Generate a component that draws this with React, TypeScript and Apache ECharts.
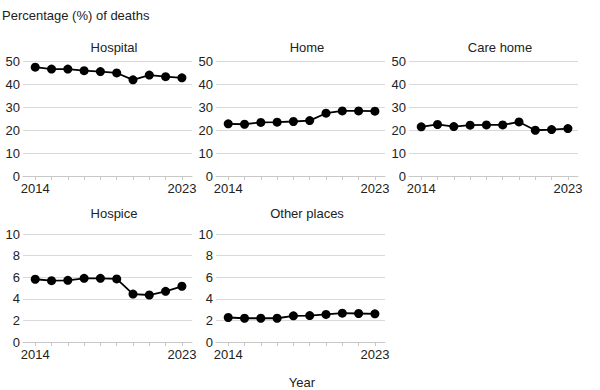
import React, { useEffect, useRef } from "react";
import * as echarts from "echarts";

const years = [2014, 2015, 2016, 2017, 2018, 2019, 2020, 2021, 2022, 2023];
const yearLabels = [2014, 2023];
const panelTitles = ["Hospital", "Home", "Care home", "Hospice", "Other places"];
const hospital = [47.3, 46.5, 46.5, 45.8, 45.4, 44.8, 41.8, 43.9, 43.2, 42.7];
const home = [22.7, 22.5, 23.3, 23.4, 23.7, 24.1, 27.3, 28.3, 28.3, 28.2];
const careHome = [21.4, 22.4, 21.5, 22.1, 22.2, 22.2, 23.5, 19.9, 20.2, 20.6];
const hospice = [5.81, 5.68, 5.71, 5.9, 5.9, 5.84, 4.44, 4.35, 4.69, 5.16];
const otherPlaces = [2.27, 2.2, 2.2, 2.2, 2.42, 2.45, 2.55, 2.67, 2.64, 2.61];
const yMaxTop = 50;
const yIntervalTop = 10;
const yMaxBottom = 10;
const yIntervalBottom = 2;

const seriesData = [hospital, home, careHome, hospice, otherPlaces];

export default function App() {
  const ref = useRef<HTMLDivElement>(null);
  useEffect(() => {
    if (!ref.current) return;
    const chart = echarts.init(ref.current, null, { renderer: "svg" });
    const font = "Liberation Sans, Arial, sans-serif";
    const grids = [
      { left: 23, top: 61, width: 169, height: 115 },
      { left: 216, top: 61, width: 169, height: 115 },
      { left: 409, top: 61, width: 169, height: 115 },
      { left: 23, top: 234, width: 169, height: 108 },
      { left: 216, top: 234, width: 169, height: 108 },
    ];
    const xAxes = grids.map((_, i) => ({
      type: "value",
      gridIndex: i,
      min: 2013.25,
      max: 2023.62,
      axisLine: { show: true, onZero: false, lineStyle: { color: "#c8c8c8", width: 1 } },
      axisTick: { show: true, length: 4, customValues: years, lineStyle: { color: "#c8c8c8" } },
      axisLabel: {
        customValues: yearLabels,
        color: "#222",
        fontSize: 13,
        fontFamily: font,
        margin: 6,
        formatter: (v: number) => String(v),
      },
      splitLine: { show: false },
    }));
    const yAxes = grids.map((_, i) => {
      const top = i < 3;
      return {
        type: "value",
        gridIndex: i,
        min: 0,
        max: top ? yMaxTop : yMaxBottom,
        interval: top ? yIntervalTop : yIntervalBottom,
        axisLine: { show: false },
        axisTick: { show: false },
        axisLabel: { color: "#222", fontSize: 13, fontFamily: font, margin: 3 },
        splitLine: { show: true, lineStyle: { color: "#d9d9d9", width: 1 } },
      };
    });
    const titles = panelTitles.map((t, i) => ({
      text: t,
      left: grids[i].left + grids[i].width / 2 + 1.5,
      top: i < 3 ? 36 : 202,
      textAlign: "center",
      textStyle: { color: "#222", fontSize: 13, fontWeight: "normal", fontFamily: font },
    }));
    const series = seriesData.map((d, i) => ({
      type: "line",
      xAxisIndex: i,
      yAxisIndex: i,
      data: d.map((v, j) => [years[j], v]),
      symbol: "circle",
      symbolSize: 9,
      itemStyle: { color: "#000" },
      lineStyle: { color: "#000", width: 1.8 },
    }));
    chart.setOption({
      animation: false,
      backgroundColor: "#fff",
      title: titles,
      grid: grids,
      xAxis: xAxes,
      yAxis: yAxes,
      series,
      graphic: [
        {
          type: "text",
          left: 2,
          top: 9,
          style: { text: "Percentage (%) of deaths", fill: "#222", fontSize: 13, fontFamily: font },
        },
        {
          type: "text",
          x: 302,
          y: 382,
          style: {
            text: "Year",
            fill: "#222",
            fontSize: 13,
            fontFamily: font,
            textAlign: "center",
            textVerticalAlign: "middle",
          },
        },
      ],
    });
    return () => chart.dispose();
  }, []);
  return <div ref={ref} style={{ width: 600, height: 390, position: "absolute", left: 0, top: 0 }} />;
}
